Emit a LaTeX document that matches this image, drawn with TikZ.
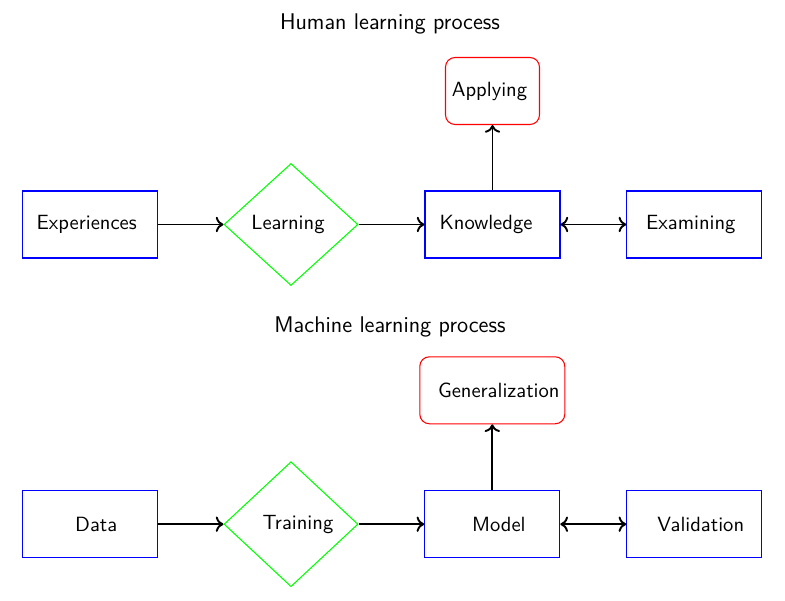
\documentclass[tikz,border=0pt]{standalone}
\usetikzlibrary{shapes.geometric,arrows.meta}
\newcommand{\px}[1]{\hspace*{\dimexpr #1pt*52/100\relax}}
\begin{document}
\begin{tikzpicture}[x=0.52pt,y=-0.52pt,font=\sffamily\fontsize{10.7}{13}\selectfont,
  titletext/.style={font=\sffamily\fontsize{11.8}{14}\selectfont},
  procbox/.style={draw=blue,line width=0.55pt,rectangle,minimum width=135*0.52pt,minimum height=67*0.52pt,inner sep=0pt},
  decision/.style={draw=green,line width=0.55pt,diamond,minimum width=134*0.52pt,minimum height=122*0.52pt,inner sep=0pt},
  outbox/.style={draw=red,line width=0.55pt,rectangle,rounded corners=5pt,minimum height=67*0.52pt,inner sep=0pt},
  flow/.style={line width=1pt,-{To[length=4pt,width=8pt]}},
  bflow/.style={line width=1pt,{To[length=4pt,width=8pt]}-{To[length=4pt,width=8pt]}}]
\useasboundingbox (0,0) rectangle (785,601);
\node[titletext] (t1) at (390,24) {Human learning process};
\node[procbox] (exp) at (89.7,224.5) {Experiences\px{6}};
\node[decision] (learn) at (291,224.5) {Learning\px{6}};
\node[procbox] (know) at (492.5,224.5) {Knowledge\px{13}};
\node[procbox] (exam) at (694.3,224.5) {Examining\px{7}};
\node[outbox,minimum width=94*0.52pt] (apply) at (492.5,91) {Applying\px{6}};
\draw[flow] (exp) -- (learn);
\draw[flow] (learn) -- (know);
\draw[bflow] (know) -- (exam);
\draw[flow] (know) -- (apply);
\node[titletext] (t2) at (390,327) {Machine learning process};
\node[procbox] (data) at (89.7,524.2) {\px{13}Data};
\node[decision,minimum height=125*0.52pt] (train) at (291,524.2) {\px{14}Training};
\node[procbox] (model) at (492.3,524.2) {\px{13}Model};
\node[procbox] (valid) at (694.3,524.2) {\px{13}Validation};
\node[outbox,minimum width=145*0.52pt] (gen) at (492.3,390.3) {\px{13}Generalization};
\draw[flow] (data) -- (train);
\draw[flow] (train) -- (model);
\draw[bflow] (model) -- (valid);
\draw[flow] (model) -- (gen);
\end{tikzpicture}
\end{document}
